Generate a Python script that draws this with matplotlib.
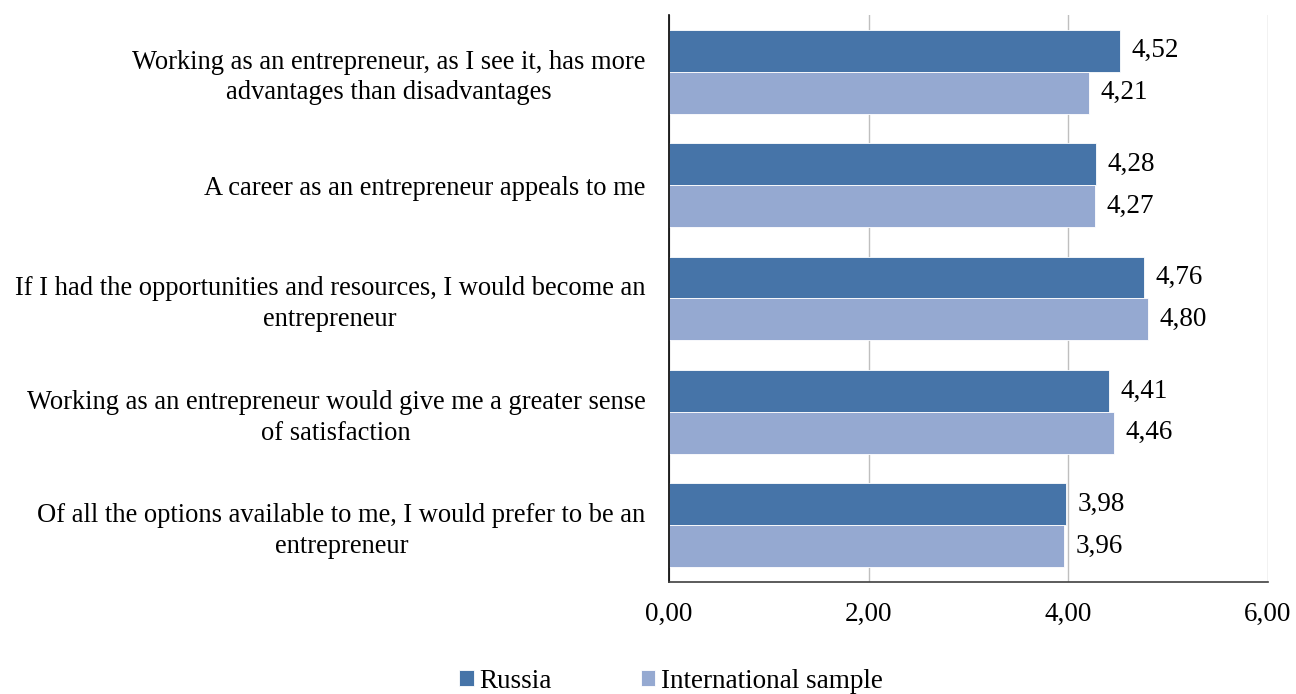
import numpy as np
import matplotlib.pyplot as plt

plt.rcParams['font.family'] = ['Liberation Serif', 'DejaVu Serif']

categories = [
    'Working as an entrepreneur, as I see it, has more\nadvantages than disadvantages',
    'A career as an entrepreneur appeals to me',
    'If I had the opportunities and resources, I would become an\nentrepreneur',
    'Working as an entrepreneur would give me a greater sense\nof satisfaction',
    'Of all the options available to me, I would prefer to be an\nentrepreneur',
]
russia = [4.52, 4.28, 4.76, 4.41, 3.98]
international = [4.21, 4.27, 4.80, 4.46, 3.96]
series_names = ['Russia', 'International sample']
colors = ['#4674A8', '#95A9D1']
fs = 19.1

fig = plt.figure(figsize=(12.96, 6.94), dpi=100)
ax = fig.add_axes([669 / 1296, 1 - 582 / 694, 599 / 1296, 567 / 694])

y = np.arange(len(categories))
h = 0.37
bars_r = ax.barh(y - h / 2, russia, height=h, color=colors[0],
                 edgecolor='white', linewidth=0.6, label=series_names[0], zorder=2)
bars_i = ax.barh(y + h / 2, international, height=h, color=colors[1],
                 edgecolor='white', linewidth=0.6, label=series_names[1], zorder=2)

for bars, vals in [(bars_r, russia), (bars_i, international)]:
    for b, v in zip(bars, vals):
        ax.annotate(f'{v:.2f}'.replace('.', ','),
                    (v, b.get_y() + b.get_height() / 2),
                    xytext=(8, 0), textcoords='offset points',
                    ha='left', va='center', fontsize=fs + 0.4)

ax.set_xlim(0, 6)
ax.set_ylim(len(categories) - 0.5, -0.5)
ax.set_xticks([0, 2, 4, 6])
ax.set_xticklabels([f'{t:.2f}'.replace('.', ',') for t in [0, 2, 4, 6]], fontsize=fs + 0.4)
ax.set_yticks(y)
ax.set_yticklabels(categories, fontsize=fs, multialignment='center', linespacing=1.3)
ax.tick_params(axis='both', length=0)
ax.tick_params(axis='x', pad=14)
ax.tick_params(axis='y', pad=17)

ax.grid(axis='x', color='#BFBFBF', linewidth=1, zorder=0)
ax.spines['top'].set_visible(False)
ax.spines['right'].set_visible(False)
ax.spines['left'].set_color('black')
ax.spines['left'].set_linewidth(1.2)
ax.spines['bottom'].set_color('#404040')
ax.spines['bottom'].set_linewidth(1.2)

fig.legend(loc='lower center', bbox_to_anchor=(0.518, -0.035), ncol=2,
           frameon=False, fontsize=fs + 0.4, handlelength=0.52, handleheight=0.52,
           handletextpad=0.22, columnspacing=3.3)

fig.savefig('out.png', dpi=100)
